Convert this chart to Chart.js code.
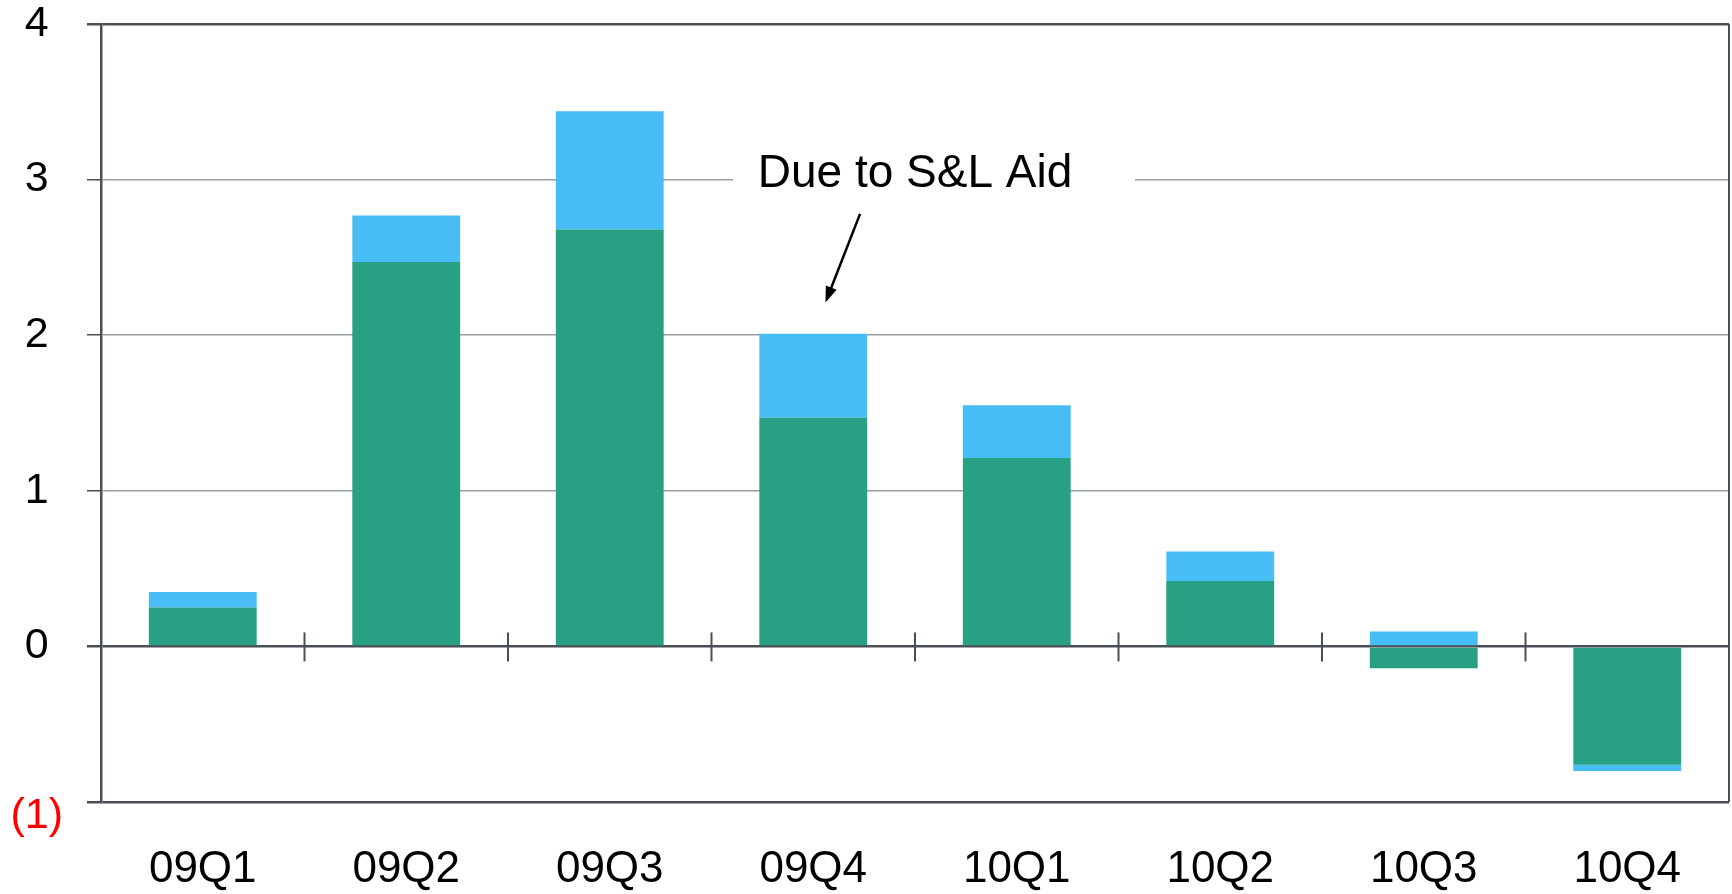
<!DOCTYPE html>
<html>
<head>
<meta charset="utf-8">
<script src="https://cdn.jsdelivr.net/npm/chart.js@4"></script>
<style>
  body { margin: 0; background: #fff; }
  #wrap { width: 1732px; height: 894px; }
</style>
</head>
<body>
<div id="wrap"><canvas id="myChart"></canvas></div>
<script>
const quarters = ["09Q1", "09Q2", "09Q3", "09Q4", "10Q1", "10Q2", "10Q3", "10Q4"]
const baseValues = [0.25, 2.47, 2.68, 1.47, 1.21, 0.42, -0.14, -0.76]
const slAidValues = [0.10, 0.30, 0.76, 0.54, 0.34, 0.19, 0.095, -0.04]
const yTickLabels = ["(1)", "0", "1", "2", "3", "4"]
const noteText = "Due to S&L Aid"

const dark = "#4a4f55"
const grey = "#9a9ea3"
const fontFamily = "'Liberation Sans', Arial, sans-serif"

// tick marks crossing the zero line, right border, and the note with arrow
const extras = {
  id: "extras",
  afterDraw(chart) {
    const ctx = chart.ctx
    const x = chart.scales.x
    const y = chart.scales.y
    const area = chart.chartArea
    const y0 = y.getPixelForValue(0)
    const half = (x.getPixelForValue(1) - x.getPixelForValue(0)) / 2

    ctx.save()
    ctx.strokeStyle = dark
    ctx.lineWidth = 2
    for (let i = 0; i < quarters.length - 1; i++) {
      const bx = x.getPixelForValue(i) + half
      ctx.beginPath()
      ctx.moveTo(bx, y0 - 14)
      ctx.lineTo(bx, y0 + 15)
      ctx.stroke()
    }
    ctx.beginPath()
    ctx.moveTo(area.right, area.top)
    ctx.lineTo(area.right, area.bottom)
    ctx.stroke()

    // note
    const tx = x.getPixelForValue(3) + half
    const ty = y.getPixelForValue(3) - 5
    ctx.fillStyle = "#fff"
    ctx.fillRect(tx - 182, ty - 30, 402, 50)
    ctx.font = "46px " + fontFamily
    ctx.fillStyle = "#000"
    ctx.textAlign = "center"
    ctx.textBaseline = "middle"
    ctx.fillText(noteText, tx, ty)

    // arrow
    const ax1 = x.getPixelForValue(3.23), ay1 = y.getPixelForValue(2.78)
    const ax2 = x.getPixelForValue(3.06), ay2 = y.getPixelForValue(2.21)
    const ang = Math.atan2(ay2 - ay1, ax2 - ax1)
    ctx.strokeStyle = "#000"
    ctx.lineWidth = 2.5
    ctx.beginPath()
    ctx.moveTo(ax1, ay1)
    ctx.lineTo(ax2 - Math.cos(ang) * 10, ay2 - Math.sin(ang) * 10)
    ctx.stroke()
    ctx.fillStyle = "#000"
    ctx.beginPath()
    ctx.moveTo(ax2, ay2)
    ctx.lineTo(ax2 - Math.cos(ang - 0.35) * 17, ay2 - Math.sin(ang - 0.35) * 17)
    ctx.lineTo(ax2 - Math.cos(ang + 0.35) * 17, ay2 - Math.sin(ang + 0.35) * 17)
    ctx.closePath()
    ctx.fill()
    ctx.restore()
  }
}

const ctx = document.getElementById("myChart").getContext("2d")
new Chart(ctx, {
  type: "bar",
  data: {
    labels: quarters,
    datasets: [
      {
        label: "Base",
        data: baseValues,
        backgroundColor: "#28a084",
        barPercentage: 0.53,
        categoryPercentage: 1,
      },
      {
        label: "S&L Aid",
        data: slAidValues,
        backgroundColor: "#48bcf4",
        barPercentage: 0.53,
        categoryPercentage: 1,
      },
    ],
  },
  options: {
    responsive: true,
    maintainAspectRatio: false,
    animation: false,
    layout: { padding: { top: 24, right: 3, left: 0, bottom: 0 } },
    plugins: {
      legend: { display: false },
      tooltip: { enabled: false },
    },
    scales: {
      x: {
        stacked: true,
        afterFit(scale) { scale.height = 92 },
        grid: { display: false },
        border: { display: false },
        ticks: {
          color: "#000",
          padding: 33,
          font: { family: fontFamily, size: 44 },
        },
      },
      y: {
        stacked: true,
        min: -1,
        max: 4,
        afterFit(scale) {
          scale.width = 101
          scale.paddingTop = 0
          scale.paddingBottom = 0
        },
        ticks: {
          stepSize: 1,
          padding: 24,
          crossAlign: "center",
          font: c => ({ family: fontFamily, size: 43, lineHeight: c.tick && c.tick.value < 0 ? 0.66 : 1.2 }),
          color: c => (c.tick.value < 0 ? "#ff0000" : "#000"),
          callback: (v) => (v < 0 ? ["", yTickLabels[v + 1]] : yTickLabels[v + 1]),
        },
        grid: {
          tickLength: 14,
          color: c => ([-1, 0, 4].includes(c.tick.value) ? dark : grey),
          lineWidth: c => ([-1, 0, 4].includes(c.tick.value) ? 2.5 : 1.5),
          tickColor: dark,
        },
        border: { color: dark, width: 2.5 },
      },
    },
  },
  plugins: [extras],
})
</script>
</body>
</html>
